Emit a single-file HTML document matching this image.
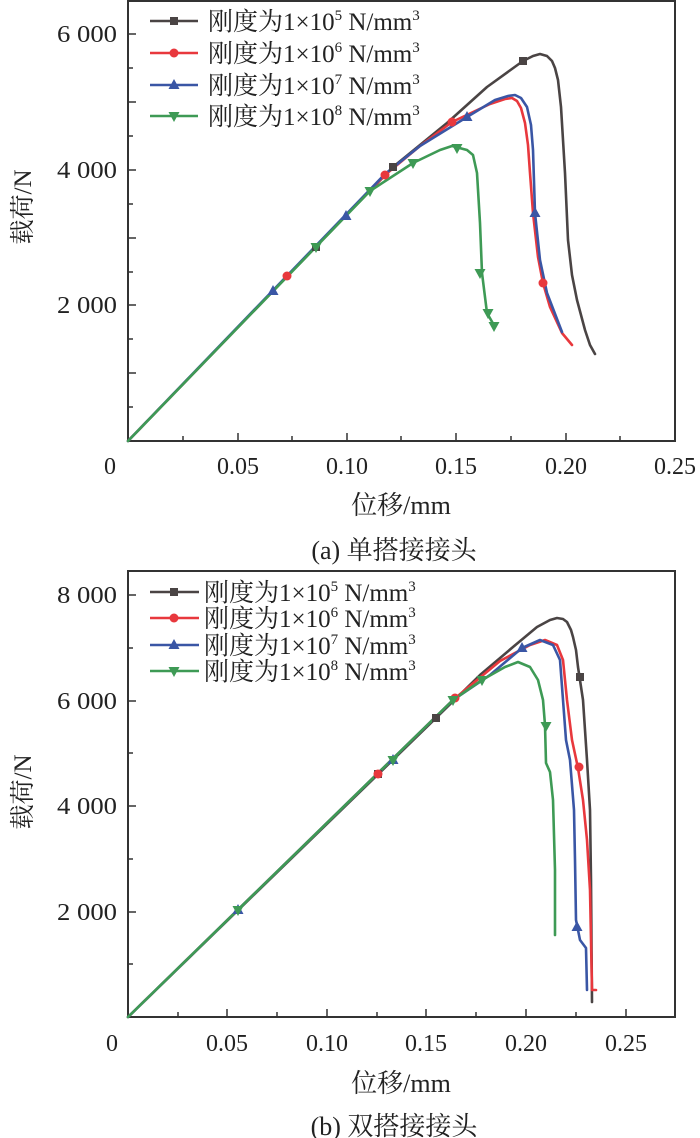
<!DOCTYPE html>
<html><head><meta charset="utf-8"><style>
html,body{margin:0;padding:0;background:#fff;}
svg{display:block;}
text{font-family:"Liberation Serif","Noto Serif CJK SC","Noto Sans CJK SC",serif;fill:#222;}
</style></head><body>
<svg width="700" height="1138" viewBox="0 0 700 1138" xmlns="http://www.w3.org/2000/svg">
<defs>
<g id="sq"><rect x="-4" y="-4" width="8" height="8" fill="#4a4444"/></g>
<g id="ci"><circle r="4.5" fill="#e8383d"/></g>
<g id="tu"><polygon points="0,-6 5.5,4 -5.5,4" fill="#3a56a5"/></g>
<g id="td"><polygon points="0,6 5.5,-4 -5.5,-4" fill="#3e9a55"/></g>
</defs>

<!-- ===== TOP CHART ===== -->
<rect x="128" y="1" width="547" height="440" fill="none" stroke="#333" stroke-width="2"/>
<g stroke="#333" stroke-width="1.5">
<line x1="128" y1="34" x2="136" y2="34"/><line x1="128" y1="68" x2="133" y2="68"/>
<line x1="128" y1="102" x2="136" y2="102"/><line x1="128" y1="136" x2="133" y2="136"/>
<line x1="128" y1="170" x2="136" y2="170"/><line x1="128" y1="204" x2="133" y2="204"/>
<line x1="128" y1="238" x2="136" y2="238"/><line x1="128" y1="272" x2="133" y2="272"/>
<line x1="128" y1="305" x2="136" y2="305"/><line x1="128" y1="339" x2="133" y2="339"/>
<line x1="128" y1="373" x2="136" y2="373"/><line x1="128" y1="407" x2="133" y2="407"/>
<line x1="183" y1="441" x2="183" y2="436"/><line x1="238" y1="441" x2="238" y2="433"/>
<line x1="292" y1="441" x2="292" y2="436"/><line x1="347" y1="441" x2="347" y2="433"/>
<line x1="401" y1="441" x2="401" y2="436"/><line x1="456" y1="441" x2="456" y2="433"/>
<line x1="511" y1="441" x2="511" y2="436"/><line x1="566" y1="441" x2="566" y2="433"/>
<line x1="620" y1="441" x2="620" y2="436"/>
</g>
<g font-size="24" text-anchor="end">
<text x="117" y="42" textLength="60" lengthAdjust="spacingAndGlyphs">6 000</text><text x="117" y="178" textLength="60" lengthAdjust="spacingAndGlyphs">4 000</text><text x="117" y="313" textLength="60" lengthAdjust="spacingAndGlyphs">2 000</text>
</g>
<g font-size="24" text-anchor="middle">
<text x="110" y="474">0</text><text x="238" y="474">0.05</text><text x="347" y="474">0.10</text>
<text x="456" y="474">0.15</text><text x="566" y="474">0.20</text><text x="675" y="474">0.25</text>
<text x="401" y="514" font-size="26">位移/mm</text>
<text x="394" y="559" font-size="26">(a) 单搭接接头</text>
</g>
<text transform="translate(31,207) rotate(-90)" font-size="25" text-anchor="middle">载荷/N</text>

<g fill="none" stroke-width="2.6" stroke-linejoin="round" stroke-linecap="round">
<polyline stroke="#4a4444" points="128,441 393,167 447,123 487,87 523,61 533,56 540,54 547,56 552,61 555,68 558,80 561,107 565,173 568,240 572,275 577,300 585,330 590,345 595,354"/>
<polyline stroke="#e8383d" points="128,441 385,175 420,146 452,122 490,104 505,99 512,98 517,101 521,108 525,123 528,145 530,173 533,213 538,257 543,283 550,307 562,333 572,345"/>
<polyline stroke="#3a56a5" points="128,441 385,174 420,146 467,117 495,100 508,96 515,95 521,98 527,107 531,125 533,150 535,213 540,260 547,293 562,332"/>
<polyline stroke="#3e9a55" points="128,441 370,191 413,163 440,150 452,146 467,150 473,155 477,173 480,223 482,273 487,313 495,327"/>
</g>
<use href="#sq" x="316" y="247"/><use href="#sq" x="393" y="167"/><use href="#sq" x="523" y="61"/>
<use href="#ci" x="287" y="276"/><use href="#ci" x="385" y="175"/><use href="#ci" x="452" y="122"/><use href="#ci" x="543" y="283"/>
<use href="#tu" x="273" y="291"/><use href="#tu" x="346" y="216"/><use href="#tu" x="467" y="117"/><use href="#tu" x="535" y="213"/>
<use href="#td" x="316" y="247"/><use href="#td" x="370" y="191"/><use href="#td" x="413" y="163"/><use href="#td" x="457" y="148"/><use href="#td" x="480" y="273"/><use href="#td" x="488" y="313"/><use href="#td" x="494" y="326"/>

<!-- legend top -->
<g stroke-width="2.6">
<line x1="150" y1="21" x2="198" y2="21" stroke="#4a4444"/>
<line x1="150" y1="53" x2="198" y2="53" stroke="#e8383d"/>
<line x1="150" y1="85" x2="198" y2="85" stroke="#3a56a5"/>
<line x1="150" y1="116" x2="198" y2="116" stroke="#3e9a55"/>
</g>
<use href="#sq" x="174" y="21"/><use href="#ci" x="174" y="53"/><use href="#tu" x="174" y="85"/><use href="#td" x="174" y="116"/>
<g font-size="25">
<text x="208" y="30">刚度为1×10<tspan font-size="15" dy="-10">5</tspan><tspan dy="10"> N/mm</tspan><tspan font-size="15" dy="-10">3</tspan></text>
<text x="208" y="62">刚度为1×10<tspan font-size="15" dy="-10">6</tspan><tspan dy="10"> N/mm</tspan><tspan font-size="15" dy="-10">3</tspan></text>
<text x="208" y="94">刚度为1×10<tspan font-size="15" dy="-10">7</tspan><tspan dy="10"> N/mm</tspan><tspan font-size="15" dy="-10">3</tspan></text>
<text x="208" y="125">刚度为1×10<tspan font-size="15" dy="-10">8</tspan><tspan dy="10"> N/mm</tspan><tspan font-size="15" dy="-10">3</tspan></text>
</g>

<!-- ===== BOTTOM CHART ===== -->
<rect x="128" y="571" width="547" height="446" fill="none" stroke="#333" stroke-width="2"/>
<g stroke="#333" stroke-width="1.5">
<line x1="128" y1="595" x2="136" y2="595"/><line x1="128" y1="648" x2="133" y2="648"/>
<line x1="128" y1="701" x2="136" y2="701"/><line x1="128" y1="753" x2="133" y2="753"/>
<line x1="128" y1="806" x2="136" y2="806"/><line x1="128" y1="859" x2="133" y2="859"/>
<line x1="128" y1="912" x2="136" y2="912"/><line x1="128" y1="964" x2="133" y2="964"/>
<line x1="178" y1="1017" x2="178" y2="1012"/><line x1="227" y1="1017" x2="227" y2="1009"/>
<line x1="277" y1="1017" x2="277" y2="1012"/><line x1="327" y1="1017" x2="327" y2="1009"/>
<line x1="377" y1="1017" x2="377" y2="1012"/><line x1="426" y1="1017" x2="426" y2="1009"/>
<line x1="476" y1="1017" x2="476" y2="1012"/><line x1="526" y1="1017" x2="526" y2="1009"/>
<line x1="576" y1="1017" x2="576" y2="1012"/><line x1="626" y1="1017" x2="626" y2="1009"/>
</g>
<g font-size="24" text-anchor="end">
<text x="117" y="603" textLength="60" lengthAdjust="spacingAndGlyphs">8 000</text><text x="117" y="709" textLength="60" lengthAdjust="spacingAndGlyphs">6 000</text><text x="117" y="814" textLength="60" lengthAdjust="spacingAndGlyphs">4 000</text><text x="117" y="920" textLength="60" lengthAdjust="spacingAndGlyphs">2 000</text>
</g>
<g font-size="24" text-anchor="middle">
<text x="112" y="1051">0</text><text x="227" y="1051">0.05</text><text x="327" y="1051">0.10</text>
<text x="426" y="1051">0.15</text><text x="526" y="1051">0.20</text><text x="626" y="1051">0.25</text>
<text x="401" y="1092" font-size="26">位移/mm</text>
<text x="394" y="1135" font-size="26">(b) 双搭接接头</text>
</g>
<text transform="translate(31,792) rotate(-90)" font-size="25" text-anchor="middle">载荷/N</text>

<g fill="none" stroke-width="2.6" stroke-linejoin="round" stroke-linecap="round">
<polyline stroke="#4a4444" points="128,1017 436,718 480,675 513,647 537,627 550,620 557,618 563,619 567,622 571,630 573,637 576,650 578,667 583,700 587,760 590,810 591,880 592,1002"/>
<polyline stroke="#e8383d" points="128,1017 453,700 500,661 530,645 545,640 557,645 563,660 567,700 572,740 578,768 583,800 587,840 590,890 592,990 596,990"/>
<polyline stroke="#3a56a5" points="128,1017 453,700 490,675 522,648 540,640 553,645 560,660 563,700 566,740 570,760 574,810 575,860 576,920 580,940 586,948 587,990"/>
<polyline stroke="#3e9a55" points="128,1017 453,700 482,680 505,667 518,662 530,667 538,680 543,700 545,725 546,763 550,772 553,800 555,870 555,935"/>
</g>
<use href="#sq" x="378" y="774"/><use href="#sq" x="436" y="718"/><use href="#sq" x="580" y="677"/>
<use href="#ci" x="378" y="774"/><use href="#ci" x="455" y="698"/><use href="#ci" x="579" y="767"/>
<use href="#tu" x="238" y="910"/><use href="#tu" x="393" y="760"/><use href="#tu" x="522" y="648"/><use href="#tu" x="577" y="927"/>
<use href="#td" x="238" y="910"/><use href="#td" x="393" y="760"/><use href="#td" x="453" y="700"/><use href="#td" x="482" y="680"/><use href="#td" x="546" y="726"/>

<!-- legend bottom -->
<g stroke-width="2.6">
<line x1="150" y1="592" x2="199" y2="592" stroke="#4a4444"/>
<line x1="150" y1="618" x2="199" y2="618" stroke="#e8383d"/>
<line x1="150" y1="645" x2="199" y2="645" stroke="#3a56a5"/>
<line x1="150" y1="671" x2="199" y2="671" stroke="#3e9a55"/>
</g>
<use href="#sq" x="174" y="592"/><use href="#ci" x="174" y="618"/><use href="#tu" x="174" y="645"/><use href="#td" x="174" y="671"/>
<g font-size="25">
<text x="204" y="601">刚度为1×10<tspan font-size="15" dy="-10">5</tspan><tspan dy="10"> N/mm</tspan><tspan font-size="15" dy="-10">3</tspan></text>
<text x="204" y="627">刚度为1×10<tspan font-size="15" dy="-10">6</tspan><tspan dy="10"> N/mm</tspan><tspan font-size="15" dy="-10">3</tspan></text>
<text x="204" y="654">刚度为1×10<tspan font-size="15" dy="-10">7</tspan><tspan dy="10"> N/mm</tspan><tspan font-size="15" dy="-10">3</tspan></text>
<text x="204" y="680">刚度为1×10<tspan font-size="15" dy="-10">8</tspan><tspan dy="10"> N/mm</tspan><tspan font-size="15" dy="-10">3</tspan></text>
</g>
</svg>
</body></html>
